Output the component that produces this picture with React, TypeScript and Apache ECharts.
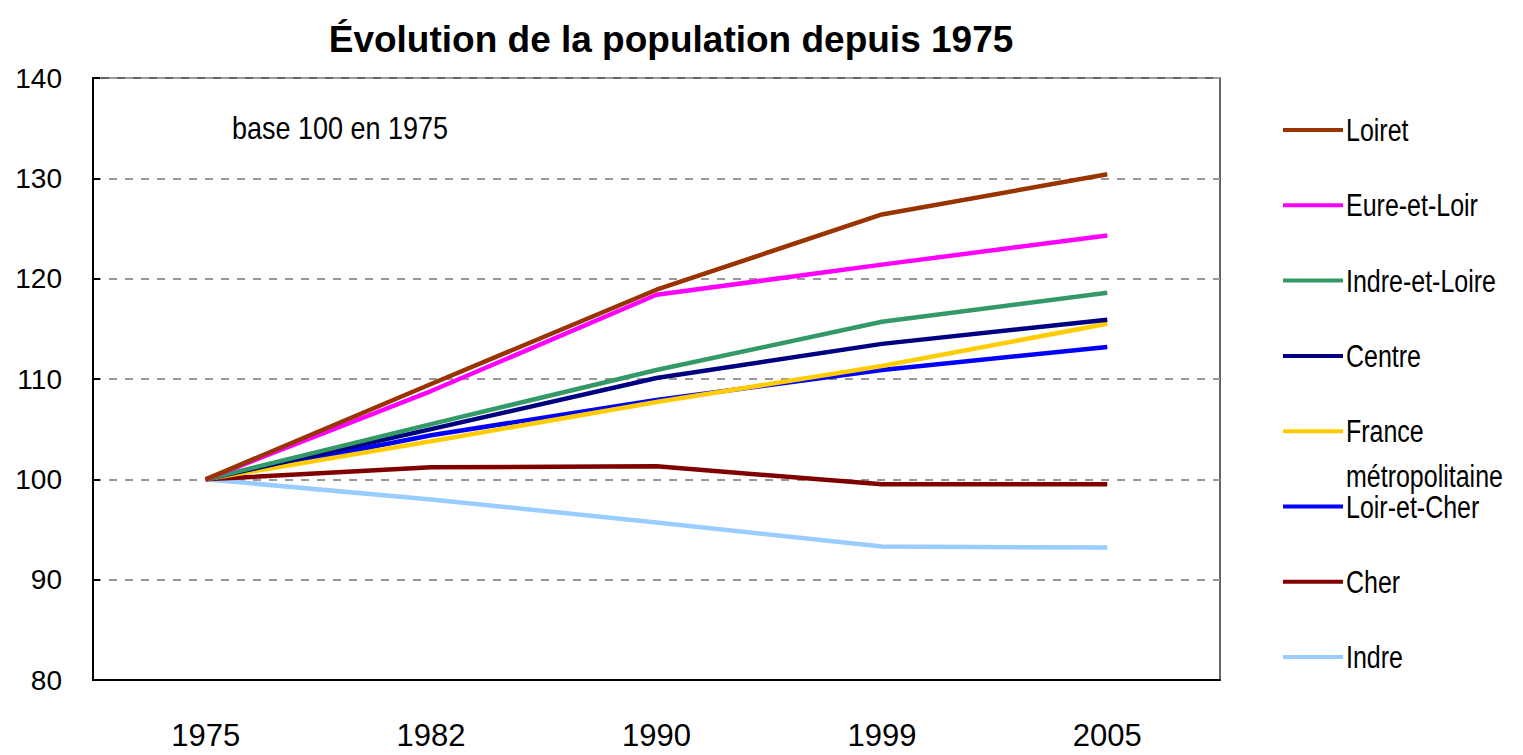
import React, { useEffect, useRef } from "react";
import * as echarts from "echarts";

const years = ["1975", "1982", "1990", "1999", "2005"];
const seriesNames = [
  "Loiret",
  "Eure-et-Loir",
  "Indre-et-Loire",
  "Centre",
  "France métropolitaine",
  "Loir-et-Cher",
  "Cher",
  "Indre",
];
const loiret = [100, 109.5, 118.9, 126.4, 130.4];
const eureEtLoir = [100, 108.8, 118.4, 121.4, 124.3];
const indreEtLoire = [100, 105.5, 110.9, 115.7, 118.6];
const centre = [100, 105.0, 110.1, 113.5, 115.9];
const franceMetro = [100, 103.8, 107.7, 111.3, 115.5];
const loirEtCher = [100, 104.4, 107.9, 110.9, 113.2];
const cher = [100, 101.2, 101.3, 99.5, 99.5];
const indre = [100, 98.0, 95.7, 93.3, 93.2];
const yTicks = [80, 90, 100, 110, 120, 130, 140];

const seriesData = [loiret, eureEtLoir, indreEtLoire, centre, franceMetro, loirEtCher, cher, indre];
const colors = ["#993300", "#FF00FF", "#339966", "#000080", "#FFCC00", "#0000FF", "#800000", "#99CCFF"];

const FONT = "'Liberation Sans', Arial, sans-serif";

export default function App() {
  const ref = useRef<HTMLDivElement>(null);
  useEffect(() => {
    if (!ref.current) return;
    const chart = echarts.init(ref.current, undefined, { renderer: "svg" });
    const legendGraphics: any[] = [];
    seriesNames.forEach((name, i) => {
      const y = 130 + i * 75.3;
      legendGraphics.push({
        type: "line",
        shape: { x1: 1283, y1: y, x2: 1343, y2: y },
        style: { stroke: colors[i], lineWidth: 4 },
      });
      const parts = name === "France métropolitaine" ? ["France", "métropolitaine"] : [name];
      parts.forEach((p, j) => {
        legendGraphics.push({
          type: "text",
          x: 1346,
          y: y + j * 45,
          scaleY: 1.25,
          style: {
            text: p,
            font: `25px ${FONT}`,
            fill: "#000",
            textVerticalAlign: "middle",
            textAlign: "left",
          },
        });
      });
    });
    chart.setOption({
      animation: false,
      title: {
        text: "Évolution de la population depuis 1975",
        left: 666,
        top: 16,
        textAlign: "center",
        textStyle: { fontFamily: FONT, fontSize: 37, fontWeight: "bold", color: "#000" },
      },
      grid: {
        left: 93,
        right: 303,
        top: 78,
        bottom: 75,
        show: true,
        borderColor: "#333",
        borderWidth: 1.5,
        backgroundColor: "#fff",
      },
      xAxis: {
        type: "category",
        data: years,
        boundaryGap: true,
        axisLine: { lineStyle: { color: "#000", width: 2 } },
        axisTick: { inside: true, length: 12, lineStyle: { color: "#000", width: 1.5 } },
        axisLabel: { fontFamily: FONT, fontSize: 31, color: "#000", margin: 40 },
      },
      yAxis: {
        type: "value",
        min: yTicks[0],
        max: yTicks[yTicks.length - 1],
        interval: 10,
        axisLine: { show: true, lineStyle: { color: "#000", width: 2 } },
        axisTick: { show: true, inside: true, length: 7, lineStyle: { color: "#000", width: 2 } },
        axisLabel: { fontFamily: FONT, fontSize: 28, color: "#000", margin: 31 },
        splitLine: { lineStyle: { color: "#999", type: [8, 8], width: 2 } },
      },
      graphic: [
        {
          type: "text",
          x: 232,
          y: 128,
          scaleY: 1.15,
          style: {
            text: "base 100 en 1975",
            font: `27px ${FONT}`,
            fill: "#000",
            textVerticalAlign: "middle",
          },
        },
        ...legendGraphics,
      ],
      series: seriesNames.map((name, i) => ({
        name,
        type: "line",
        data: seriesData[i],
        symbol: "none",
        lineStyle: { color: colors[i], width: 4.5 },
        z: 10 - i,
      })),
    });
    return () => chart.dispose();
  }, []);
  return <div ref={ref} style={{ width: 1523, height: 755, position: "absolute", left: 0, top: 0 }} />;
}
